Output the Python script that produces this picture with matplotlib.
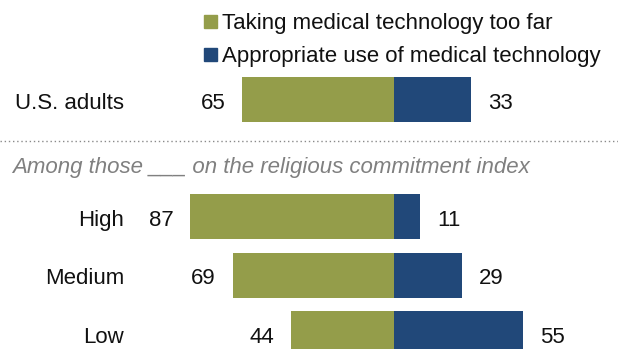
import matplotlib
matplotlib.use("Agg")
import matplotlib.pyplot as plt
from matplotlib.lines import Line2D
from matplotlib.patches import Rectangle

categories = ["U.S. adults", "High", "Medium", "Low"]
too_far = [65, 87, 69, 44]
appropriate = [33, 11, 29, 55]
series_names = ["Taking medical technology too far", "Appropriate use of medical technology"]
subtitle = "Among those ___ on the religious commitment index"
row_pos = [0, 2, 3, 4]

GREEN = "#949D4A"
BLUE = "#214879"
FONT = ["Liberation Sans", "DejaVu Sans"]

W, H = 618, 349
fig = plt.figure(figsize=(W / 100, H / 100), dpi=100)
ax = fig.add_axes([0, 0, 1, 1])
ax.set_axis_off()

px_per_unit = 2.34
center_px = 394
ax.set_xlim(-center_px / px_per_unit, (W - center_px) / px_per_unit)
row_px = 58.5
first_px = 99.5
ax.set_ylim((H - first_px) / row_px, -first_px / row_px)

bh = 45 / row_px
ax.barh(row_pos, [-v for v in too_far], height=bh, color=GREEN, edgecolor="none")
ax.barh(row_pos, appropriate, height=bh, color=BLUE, edgecolor="none")

fs = 16
base_px = 9.5
base_off = -base_px * 72 / 100  # baseline offset below row centre, in points
for y, g, b, c in zip(row_pos, too_far, appropriate, categories):
    ax.annotate(str(g), (-g, y), xytext=(-12, base_off), textcoords="offset points",
                ha="right", va="baseline", fontsize=fs, family=FONT, color="#111111")
    ax.annotate(str(b), (b, y), xytext=(12.5, base_off), textcoords="offset points",
                ha="left", va="baseline", fontsize=fs, family=FONT, color="#111111")
    fig.text(124 / W, 1 - (first_px + row_px * y + base_px) / H, c, ha="right",
             va="baseline", fontsize=fs, family=FONT, color="#111111")

# dotted separator
fig.add_artist(Line2D([0, 1], [1 - 141 / H, 1 - 141 / H], transform=fig.transFigure,
                      color="#8a8a8a", linewidth=1.0, linestyle=(0, (1, 2))))
fig.text(12 / W, 1 - 173 / H, subtitle, ha="left", va="baseline", fontsize=fs,
         style="italic", family=FONT, color="#808080")

# legend
for i, (name, col) in enumerate(zip(series_names, [GREEN, BLUE])):
    base = 29 + 33 * i
    fig.add_artist(Rectangle((204 / W, 1 - (base - 1) / H), 13 / W, 13 / H,
                             transform=fig.transFigure, color=col))
    fig.text(222 / W, 1 - base / H, name, ha="left", va="baseline", fontsize=fs,
             family=FONT, color="#111111")

fig.savefig("out.png", dpi=100)
